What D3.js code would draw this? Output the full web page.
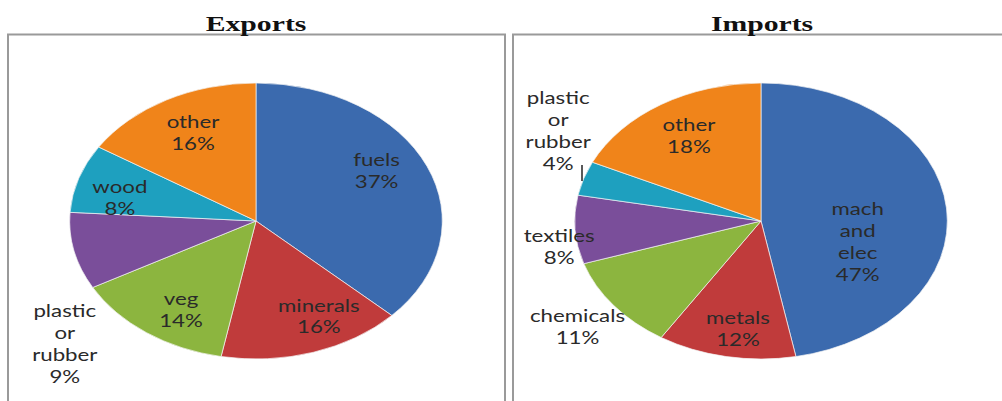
<!DOCTYPE html>
<html>
<head>
<meta charset="utf-8">
<script src="https://cdn.jsdelivr.net/npm/d3@7"></script>
<style>
html,body{margin:0;padding:0;background:#fff;}
svg{display:block;}
</style>
</head>
<body>
<svg id="chart" width="1002" height="401"></svg>
<script>
// ---- data ----
const exportCategories = ["fuels", "minerals", "veg", "plastic or rubber", "wood", "other"];
const exportValues = [37, 16, 14, 9, 8, 16];
const importCategories = ["mach and elec", "metals", "chemicals", "textiles", "plastic or rubber", "other"];
const importValues = [47, 12, 11, 8, 4, 18];
const chartTitles = ["Exports", "Imports"];
const sliceColors = ["#3B6AAE", "#C03B3B", "#8CB53F", "#7A4E9A", "#1EA0BF", "#F0841A"];

// ---- layout (label placement: [radius factor, angle in degrees]) ----
const exportLabelPos = [[0.74, 61], [0.77, 154], [0.76, 212], [1.36, 229], [0.75, 283], [0.72, 332]];
const importLabelPos = [[0.54, 106], [0.79, 189], [1.25, 232], [1.1, 260], [1.27, 301], [0.73, 328]];
const importLabelLines = [["mach", "and", "elec"], ["metals"], ["chemicals"], ["textiles"], ["plastic", "or", "rubber"], ["other"]];
const exportLabelLines = [["fuels"], ["minerals"], ["veg"], ["plastic", "or", "rubber"], ["wood"], ["other"]];

const svg = d3.select("#chart");
const SX = 1.35;   // horizontal stretch of the original picture
const R = 138;

// panel borders
svg.append("rect").attr("x", 8).attr("y", 34.5).attr("width", 497).attr("height", 400)
  .attr("fill", "none").attr("stroke", "#9a9a9a").attr("stroke-width", 2);
svg.append("rect").attr("x", 513).attr("y", 34.5).attr("width", 520).attr("height", 400)
  .attr("fill", "none").attr("stroke", "#9a9a9a").attr("stroke-width", 2);

function drawPie(cx, cy, title, titleX, cats, vals, labelPos, labelLines) {
  const g = svg.append("g");
  svg.append("text")
    .attr("transform", `translate(${titleX},31) scale(${SX},1)`)
    .attr("text-anchor", "middle")
    .attr("font-family", "'Liberation Serif', 'Times New Roman', serif")
    .attr("font-weight", "bold")
    .attr("font-size", 22)
    .attr("fill", "#111")
    .text(title);

  const pie = d3.pie().sort(null).value(d => d)(vals);
  const arc = d3.arc().innerRadius(0).outerRadius(R);
  const pg = g.append("g").attr("transform", `translate(${cx},${cy}) scale(${SX},1)`);
  pg.selectAll("path").data(pie).join("path")
    .attr("d", arc)
    .attr("fill", (d, i) => sliceColors[i])
    .attr("stroke", "#f4f4f4")
    .attr("stroke-width", 0.6);

  const lh = 22;
  pie.forEach((d, i) => {
    const [rf, ang] = labelPos[i];
    const a = ang * Math.PI / 180;
    const x = cx + Math.sin(a) * R * rf * SX;
    const y = cy - Math.cos(a) * R * rf;
    const lines = labelLines[i].concat([Math.round(vals[i]) + "%"]);
    const t = g.append("text")
      .attr("transform", `translate(${x},${y - (lines.length - 1) * lh / 2 + 6}) scale(${SX},1)`)
      .attr("text-anchor", "middle")
      .attr("font-family", "Lato, 'Open Sans', sans-serif")
      .attr("font-size", 16.5)
      .attr("fill", "#2a2a2a");
    lines.forEach((s, k) => {
      t.append("tspan").attr("x", 0).attr("dy", k === 0 ? 0 : lh).text(s);
    });
  });
  return g;
}

drawPie(256, 221, chartTitles[0], 256, exportCategories, exportValues, exportLabelPos, exportLabelLines);
const ig = drawPie(761, 221, chartTitles[1], 762, importCategories, importValues, importLabelPos, importLabelLines);

// leader line for the small import slice label
ig.append("line").attr("x1", 582).attr("y1", 165).attr("x2", 582).attr("y2", 181)
  .attr("stroke", "#222").attr("stroke-width", 1.5);
</script>
</body>
</html>
